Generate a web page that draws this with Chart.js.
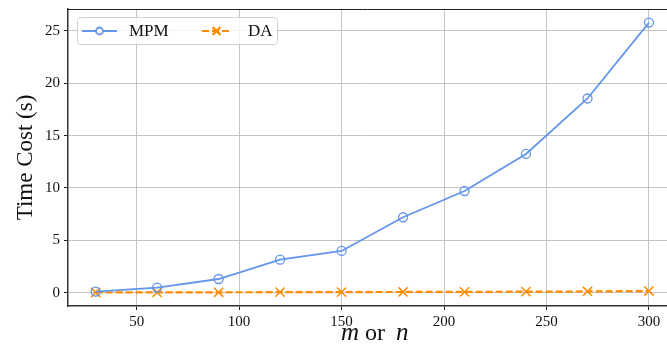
<!DOCTYPE html>
<html>
<head>
<meta charset="utf-8">
<script src="https://cdn.jsdelivr.net/npm/chart.js@4/dist/chart.umd.min.js"></script>
<style>
  html, body { margin: 0; padding: 0; background: #fff; }
  #wrap { width: 667px; height: 353px; }
</style>
</head>
<body>
<div id="wrap"><canvas id="myChart" width="667" height="353"></canvas></div>
<script>
"use strict";

const sizes = [30, 60, 90, 120, 150, 180, 210, 240, 270, 300];
const mpmTimes = [0.1, 0.48, 1.3, 3.15, 3.98, 7.2, 9.71, 13.25, 18.55, 25.8];
const daTimes = [0.01, 0.02, 0.03, 0.04, 0.05, 0.06, 0.07, 0.09, 0.11, 0.15];
const xTicks = [50, 100, 150, 200, 250, 300];
const yTicks = [0, 5, 10, 15, 20, 25];

const serif = "'Liberation Serif', 'DejaVu Serif', serif";
const ctx = document.getElementById("myChart");

// top spine + matplotlib-like legend + x title with italic m / n
const extras = {
  id: "extras",
  afterDraw(chart) {
    const c = chart.ctx;
    const area = chart.chartArea;
    c.save();
    c.strokeStyle = "#222";
    c.lineWidth = 1;
    c.beginPath();
    c.moveTo(area.left, area.top + 0.5);
    c.lineTo(area.right, area.top + 0.5);
    c.stroke();

    // legend box
    c.fillStyle = "rgba(255,255,255,0.8)";
    c.strokeStyle = "#d0d0d0";
    c.lineWidth = 1;
    c.beginPath();
    c.roundRect(77.5, 17.5, 200, 27, 3);
    c.fill();
    c.stroke();

    const ds = chart.data.datasets;
    const entries = [
      { x0: 82, x1: 117, text: ds[0].label, tx: 129, d: ds[0] },
      { x0: 202, x1: 231, text: ds[1].label, tx: 248, d: ds[1] },
    ];
    const ly = 31;
    entries.forEach((e) => {
      c.strokeStyle = e.d.borderColor;
      c.lineWidth = e.d.borderWidth;
      c.setLineDash(e.d.borderDash || []);
      c.beginPath();
      c.moveTo(e.x0, ly);
      c.lineTo(e.x1, ly);
      c.stroke();
      c.setLineDash([]);
      const mx = (e.x0 + e.x1) / 2;
      c.strokeStyle = e.d.pointBorderColor;
      c.fillStyle = "#fff";
      Chart.helpers.drawPoint(c, {
        pointStyle: e.d.pointStyle,
        radius: e.d.pointRadius - 1,
        borderWidth: e.d.pointBorderWidth,
      }, mx, ly);
      c.fillStyle = "#111";
      c.font = "17px " + serif;
      c.textBaseline = "middle";
      c.textAlign = "left";
      c.fillText(e.text, e.tx, ly + 1);
    });

    // x axis title: "m or n", m and n in math italic
    c.fillStyle = "#111";
    c.textBaseline = "alphabetic";
    c.textAlign = "left";
    c.font = "italic 25px " + serif;
    c.fillText("m", 341, 340);
    c.fillText("n", 396, 340);
    c.font = "24px " + serif;
    c.fillText("or", 365, 340);
    c.restore();
  },
};

new Chart(ctx, {
  type: "line",
  data: {
    labels: sizes,
    datasets: [
      {
        label: "MPM",
        data: sizes.map((s, i) => ({ x: s, y: mpmTimes[i] })),
        borderColor: "#6495ED",
        backgroundColor: "rgba(0,0,0,0)",
        borderWidth: 1.8,
        pointStyle: "circle",
        pointRadius: 4.5,
        pointBorderWidth: 1.3,
        pointBorderColor: "#6495ED",
        pointBackgroundColor: "rgba(0,0,0,0)",
        tension: 0,
      },
      {
        label: "DA",
        data: sizes.map((s, i) => ({ x: s, y: daTimes[i] })),
        borderColor: "#FF8C00",
        backgroundColor: "rgba(0,0,0,0)",
        borderWidth: 2.2,
        borderDash: [7, 3],
        pointStyle: "crossRot",
        pointRadius: 6.5,
        pointBorderWidth: 1.5,
        pointBorderColor: "#FF8C00",
        tension: 0,
      },
    ],
  },
  options: {
    responsive: false,
    animation: false,
    devicePixelRatio: 1,
    layout: { autoPadding: false, padding: { top: 9, right: 0, left: 0, bottom: 0 } },
    plugins: {
      legend: { display: false },
      tooltip: { enabled: false },
    },
    scales: {
      x: {
        type: "linear",
        min: 16.5,
        max: 308.8,
        afterFit: (s) => { s.height = 47; s.paddingRight = 0; s.paddingLeft = 0; },
        afterBuildTicks: (s) => { s.ticks = xTicks.map((v) => ({ value: v })); },
        grid: { color: "#c4c4c4", lineWidth: 1, tickColor: "#222", tickLength: 4 },
        border: { color: "#333", width: 1.5 },
        ticks: { color: "#111", font: { family: serif, size: 15 }, padding: 3, maxRotation: 0 },
      },
      y: {
        type: "linear",
        min: -1.28,
        max: 27.1,
        afterFit: (s) => { s.width = 68; s.paddingTop = 0; s.paddingBottom = 0; },
        afterBuildTicks: (s) => { s.ticks = yTicks.map((v) => ({ value: v })); },
        grid: { color: "#c4c4c4", lineWidth: 1, tickColor: "#222", tickLength: 4 },
        border: { color: "#333", width: 1.5 },
        ticks: { color: "#111", font: { family: serif, size: 15 }, padding: 4 },
        title: {
          display: true,
          text: "Time Cost (s)",
          color: "#111",
          font: { family: serif, size: 23 },
          padding: { top: 12, bottom: 0 },
        },
      },
    },
  },
  plugins: [extras],
});
</script>
</body>
</html>
